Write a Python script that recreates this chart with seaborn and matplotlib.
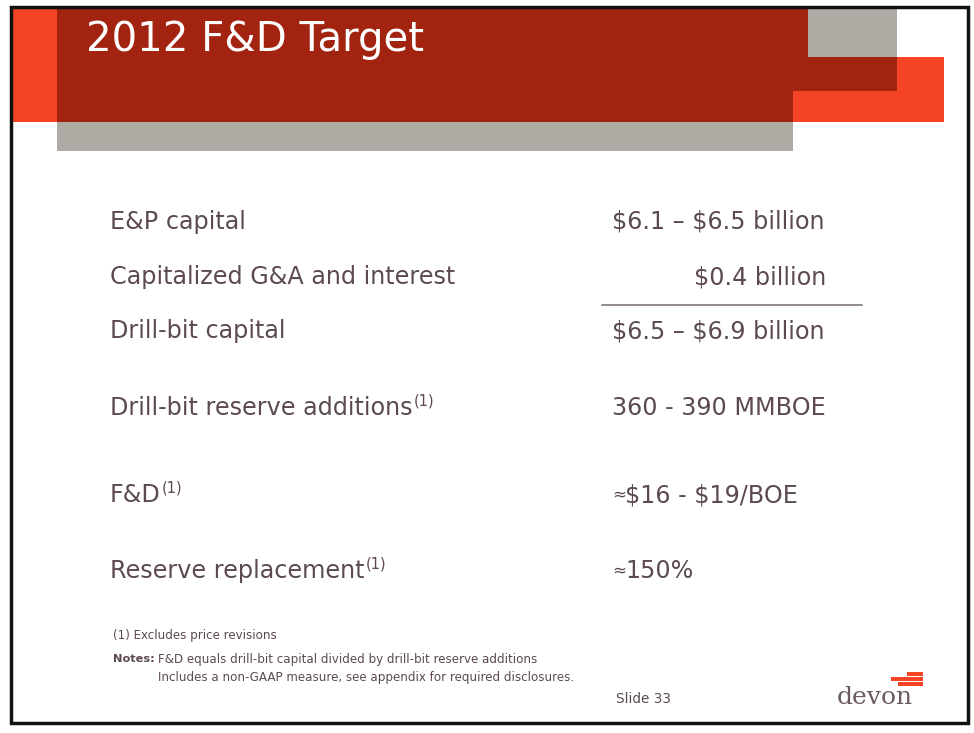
import numpy as np
import pandas as pd
import matplotlib
matplotlib.use("Agg")
import matplotlib.pyplot as plt
import matplotlib.patches as mpatches
import seaborn as sns

# --- noi dung slide ---
title = "2012 F&D Target"
labels = ["E&P capital", "Capitalized G&A and interest", "Drill-bit capital",
          "Drill-bit reserve additions", "F&D", "Reserve replacement"]
values = ["$6.1 – $6.5 billion", "$0.4 billion", "$6.5 – $6.9 billion",
          "360 - 390 MMBOE", "≈$16 - $19/BOE", "≈150%"]
footnote_flag = [False, False, False, True, True, True]
row_y = [222, 277, 331, 408, 495, 571]
right_aligned = [False, True, False, False, False, False]

footnote = "(1) Excludes price revisions"
notes = ["F&D equals drill-bit capital divided by drill-bit reserve additions",
         "Includes a non-GAAP measure, see appendix for required disclosures."]
slide_no = "Slide 33"

TXT = "#5c4a4d"
DARK_RED = "#a32311"
ORANGE = "#f44325"
GRAY = "#aeaaa4"

sns.set_style("white")
plt.rcParams['font.family'] = ['DejaVu Sans']

W, H = 974, 733
fig = plt.figure(figsize=(W / 100, H / 100), dpi=100)
ax = fig.add_axes([0, 0, 1, 1])
ax.set_xlim(0, W)
ax.set_ylim(H, 0)
ax.axis("off")


def box(x0, y0, x1, y1, color):
    ax.add_patch(mpatches.Rectangle((x0, y0), x1 - x0, y1 - y0, color=color, lw=0))


def esc(s):
    return s.replace("$", r"\$")


# header blocks
box(10, 7, 57, 122, ORANGE)
box(793, 57, 944, 122, ORANGE)
box(57, 7, 793, 122, DARK_RED)
box(793, 7, 897, 91, DARK_RED)
box(808, 7, 897, 57, GRAY)
box(57, 122, 793, 151, GRAY)

ax.text(86, 40, title, color="white", fontsize=29, va="center", ha="left")

fig.canvas.draw()
renderer = fig.canvas.get_renderer()

FS = 17.2
for lab, val, flag, y, ra in zip(labels, values, footnote_flag, row_y, right_aligned):
    t = ax.text(110, y, lab, color=TXT, fontsize=FS, va="center", ha="left")
    if flag:
        bb = t.get_window_extent(renderer)
        ax.text(bb.x1 + 1, y - 7, "(1)", color=TXT, fontsize=10.5, va="center", ha="left")
    if ra:
        ax.text(826, y, esc(val), color=TXT, fontsize=FS, va="center", ha="right")
    elif val.startswith("≈"):
        # dau xap xi nho hon chu chinh
        ax.text(612, y - 1, "≈", color=TXT, fontsize=FS * 0.7, va="center", ha="left")
        ax.text(625, y, esc(val[1:]), color=TXT, fontsize=FS, va="center", ha="left")
    else:
        ax.text(612, y, esc(val), color=TXT, fontsize=FS, va="center", ha="left")

ax.plot([602, 862], [305, 305], color="#8c8284", lw=1.3)

# footnotes
ax.text(113, 635, footnote, color=TXT, fontsize=8.6, va="center", ha="left")
ax.text(113, 659, "Notes:", color=TXT, fontsize=8.2, fontweight="bold", va="center", ha="left")
ax.text(158, 659, notes[0], color=TXT, fontsize=8.6, va="center", ha="left")
ax.text(158, 677, notes[1], color=TXT, fontsize=8.6, va="center", ha="left")
ax.text(616, 699, slide_no, color=TXT, fontsize=9.8, va="center", ha="left")

# devon logo
box(907, 672, 923, 676, ORANGE)
box(891, 677, 923, 681, ORANGE)
box(898, 682, 923, 686, ORANGE)
ax.text(875, 698, "devon", color="#6b5a5e", fontsize=18, family="DejaVu Serif",
        va="center", ha="center")

# khung vien
ax.add_patch(mpatches.Rectangle((10.5, 7), 957, 716, fill=False, ec="#111111", lw=2.5))

fig.savefig("out.png", dpi=100)
